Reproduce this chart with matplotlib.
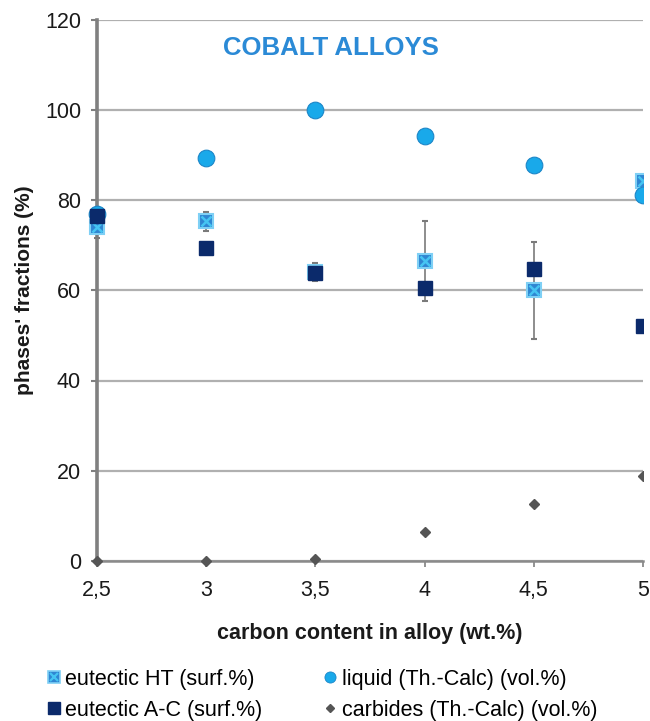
import matplotlib
matplotlib.use("Agg")
import matplotlib.pyplot as plt
from matplotlib.patches import Rectangle
from matplotlib.lines import Line2D

plt.rcParams['font.family'] = ['Liberation Sans', 'DejaVu Sans']

carbon = [2.5, 3.0, 3.5, 4.0, 4.5, 5.0]
eutectic_ht = [74.0, 75.3, 64.0, 66.5, 60.0, 84.3]
eutectic_ht_err = [2.5, 2.1, 2.0, 8.8, 10.8, 0.8]
eutectic_ac = [76.5, 69.3, 63.8, 60.6, 64.8, 52.0]
liquid = [77.0, 89.3, 100.0, 94.2, 87.7, 81.1]
carbides = [0.0, 0.0, 0.4, 6.4, 12.6, 18.9]
xticks = [2.5, 3.0, 3.5, 4.0, 4.5, 5.0]
xticklabels = ['2,5', '3', '3,5', '4', '4,5', '5']
yticks = [0, 20, 40, 60, 80, 100, 120]

labels = ['eutectic HT (surf.%)', 'eutectic A-C (surf.%)',
          'liquid (Th.-Calc) (vol.%)', 'carbides (Th.-Calc) (vol.%)']

HT_FACE = '#2f86d2'
HT_EDGE = '#7fd0f5'
HT_X = '#45c4f2'
AC_COL = '#0b2a6b'
LIQ_COL = '#19a9ea'
LIQ_EDGE = '#1c86c8'
CARB_COL = '#555555'

fig = plt.figure(figsize=(6.5, 7.21), dpi=100)
ax = fig.add_axes([97/650, 1 - 561/721, (643 - 97)/650, (561 - 19.5)/721])

clip = Rectangle((-0.06, -0.05), 1.06, 1.1, transform=ax.transAxes,
                 facecolor='none', edgecolor='none')
ax.add_patch(clip)

arts = []
eb = ax.errorbar(carbon, eutectic_ht, yerr=eutectic_ht_err, fmt='none',
                 ecolor='#7a7a7a', elinewidth=1.2, capsize=2.5, capthick=1.5, zorder=3)
for a in list(eb.lines[1]) + list(eb.lines[2]):
    arts.append(a)
l1, = ax.plot(carbon, eutectic_ht, linestyle='none', marker='s', markersize=10.5,
              markerfacecolor=HT_FACE, markeredgecolor=HT_EDGE, markeredgewidth=1.5, zorder=4)
l1x, = ax.plot(carbon, eutectic_ht, linestyle='none', marker='x', markersize=7.5,
               markeredgecolor=HT_X, markeredgewidth=1.8, zorder=4.1)
l3, = ax.plot(carbon, liquid, linestyle='none', marker='o', markersize=12,
              markerfacecolor=LIQ_COL, markeredgecolor=LIQ_EDGE, markeredgewidth=0.8, zorder=4.5)
l2, = ax.plot(carbon, eutectic_ac, linestyle='none', marker='s', markersize=10,
              markerfacecolor=AC_COL, markeredgecolor=AC_COL, zorder=5)
l4, = ax.plot(carbon, carbides, linestyle='none', marker='D', markersize=5,
              markerfacecolor=CARB_COL, markeredgecolor=CARB_COL, zorder=6)
for a in [l1, l1x, l2, l3, l4] + arts:
    a.set_clip_on(True)
    a.set_clip_path(clip)

ax.set_xlim(2.5, 5.0)
ax.set_ylim(0, 120)
ax.set_xticks(xticks)
ax.set_xticklabels(xticklabels)
ax.set_yticks(yticks)
ax.yaxis.grid(True, color='#b0b0b0', linewidth=1.6)
ax.set_axisbelow(True)
for s in ['top', 'right']:
    ax.spines[s].set_visible(False)
ax.spines['left'].set_color('#808080')
ax.spines['left'].set_linewidth(2.6)
ax.spines['bottom'].set_color('#8a8a8a')
ax.spines['bottom'].set_linewidth(1.8)
ax.tick_params(axis='y', direction='out', length=4.5, width=1.5, color='#808080',
               labelsize=15.5, pad=7, labelcolor='#1a1a1a')
ax.tick_params(axis='x', direction='out', length=4.5, width=1.3, color='#8a8a8a',
               labelsize=15.5, pad=9, labelcolor='#1a1a1a')

ax.set_xlabel('carbon content in alloy (wt.%)', fontsize=15.5, fontweight='bold',
              labelpad=16, color='#1a1a1a')
ax.set_ylabel("phases' fractions (%)", fontsize=15, fontweight='bold',
              labelpad=8, color='#1a1a1a')

ax.text(0.428, 0.947, 'COBALT ALLOYS', transform=ax.transAxes, ha='center', va='center',
        fontsize=18.5, fontweight='bold', color='#2b8ad6')

h_ht = (Line2D([], [], linestyle='none', marker='s', markersize=9,
               markerfacecolor=HT_FACE, markeredgecolor=HT_EDGE, markeredgewidth=1.2),
        Line2D([], [], linestyle='none', marker='x', markersize=6,
               markeredgecolor=HT_X, markeredgewidth=1.6))
h_ac = Line2D([], [], linestyle='none', marker='s', markersize=9,
              markerfacecolor=AC_COL, markeredgecolor=AC_COL)
h_liq = Line2D([], [], linestyle='none', marker='o', markersize=8,
               markerfacecolor=LIQ_COL, markeredgecolor=LIQ_EDGE, markeredgewidth=0.6)
h_carb = Line2D([], [], linestyle='none', marker='D', markersize=4,
                markerfacecolor=CARB_COL, markeredgecolor=CARB_COL)

fig.legend([h_ht, h_ac, h_liq, h_carb], labels, ncol=2, frameon=False,
           loc='upper left', bbox_to_anchor=(46/650, 1 - 669/721),
           fontsize=15.5, handlelength=0.7, handletextpad=0.2,
           columnspacing=2.8, labelspacing=0.45, borderaxespad=0, borderpad=0)

fig.savefig('out.png', dpi=100)
